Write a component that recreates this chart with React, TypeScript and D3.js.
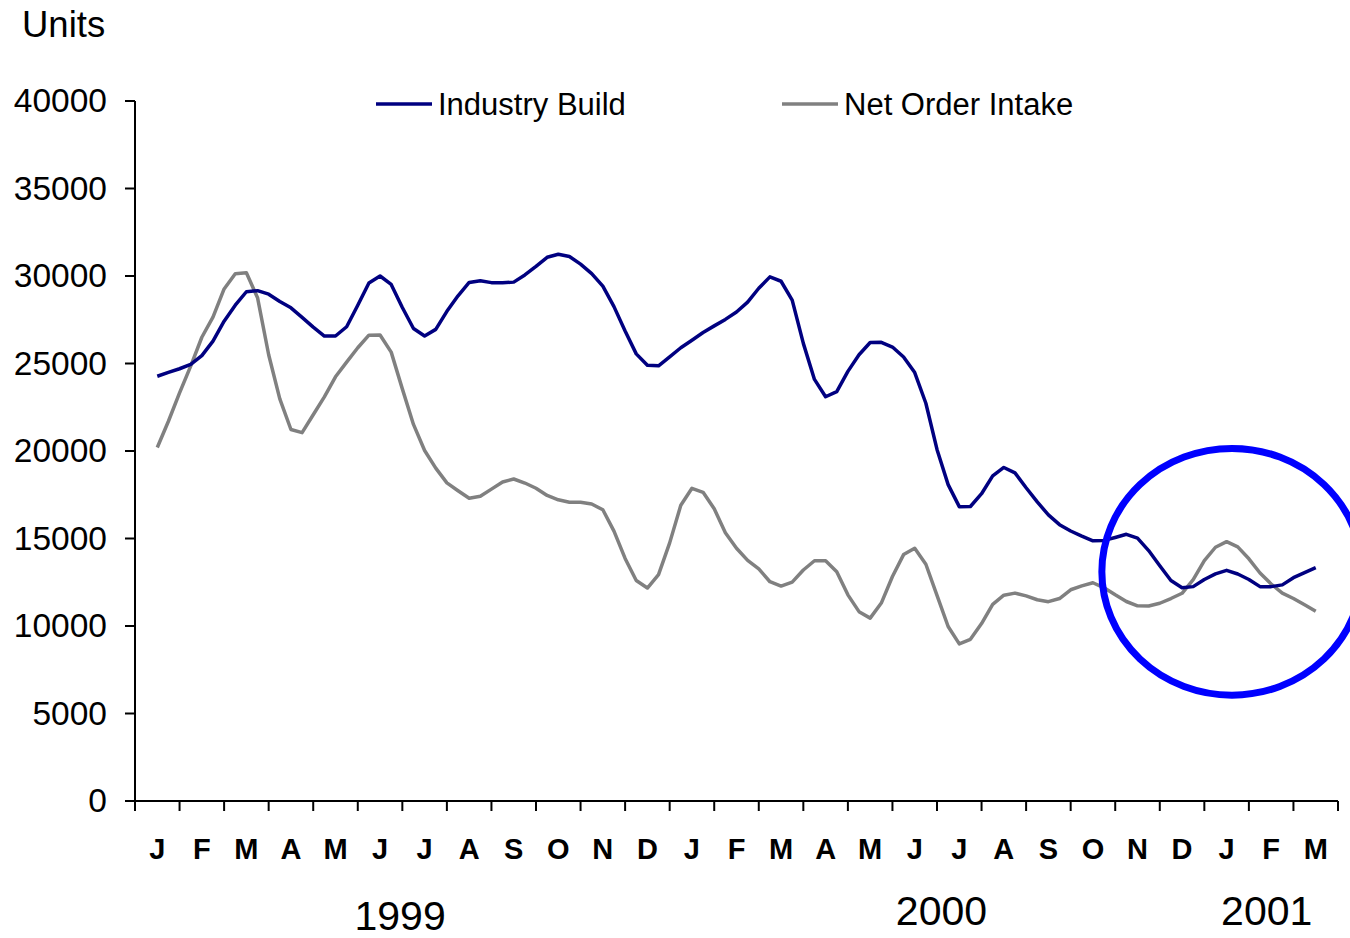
import * as d3 from "d3";
import React from "react";

// weekly readings (approx. quarter-month steps), mid Jan 1999 -> mid Mar 2001
const industryBuild = [
  24270, 24490, 24700, 24950, 25450, 26280, 27420, 28330, 29100, 29160,
  28960, 28540, 28180, 27640, 27080, 26570, 26570, 27100, 28330, 29600,
  30000, 29520, 28200, 27000, 26570, 26950, 27980, 28870, 29630, 29730,
  29620, 29610, 29650, 30060, 30550, 31070, 31240, 31110, 30680, 30140,
  29420, 28250, 26860, 25550, 24900, 24870, 25380, 25900, 26330, 26770,
  27150, 27520, 27940, 28510, 29300, 29950, 29700, 28620, 26150, 24090,
  23100, 23390, 24550, 25500, 26200, 26210, 25940, 25370, 24480, 22730,
  20090, 18080, 16820, 16830, 17560, 18580, 19060, 18750, 17900, 17090,
  16350, 15790, 15430, 15140, 14870, 14890, 15060, 15240, 15020, 14310,
  13440, 12600, 12190, 12250, 12660, 12980, 13180, 12970, 12660, 12250,
  12250, 12350, 12760, 13050, 13330,
];

const netOrderIntake = [
  20200, 21700, 23320, 24850, 26500, 27650, 29260, 30130, 30190, 28760,
  25500, 22980, 21230, 21050, 22070, 23090, 24240, 25080, 25900, 26620,
  26630, 25650, 23550, 21520, 20030, 19020, 18180, 17730, 17300, 17410,
  17820, 18230, 18400, 18170, 17870, 17460, 17210, 17070, 17070, 16970,
  16640, 15420, 13860, 12600, 12170, 12940, 14750, 16900, 17870, 17640,
  16700, 15330, 14440, 13750, 13260, 12530, 12280, 12510, 13200, 13730,
  13730, 13100, 11780, 10820, 10450, 11310, 12830, 14080, 14440, 13530,
  11750, 9970, 8980, 9240, 10140, 11240, 11760, 11880, 11720, 11500,
  11390, 11570, 12070, 12290, 12470, 12180, 11780, 11400, 11150, 11140,
  11300, 11570, 11870, 12650, 13740, 14500, 14820, 14520, 13840, 13030,
  12400, 11880, 11570, 11210, 10840,
];

const months = [
  "J", "F", "M", "A", "M", "J", "J", "A", "S", "O", "N", "D",
  "J", "F", "M", "A", "M", "J", "J", "A", "S", "O", "N", "D",
  "J", "F", "M",
];
const years = [
  { label: "1999", month: 5.95 },
  { label: "2000", month: 18.1 },
  { label: "2001", month: 25.4 },
];
const yTicks = [0, 5000, 10000, 15000, 20000, 25000, 30000, 35000, 40000];

// highlighted region (month position / units)
const highlight = { month: 24.62, value: 13100, rMonths: 2.92, rValue: 7050 };

const FONT = "'Liberation Sans', Arial, sans-serif";
const W = 1350;
const H = 938;

export default function App() {
  const x = d3.scaleLinear().domain([0, months.length]).range([135, 1338]);
  const y = d3.scaleLinear().domain([0, 40000]).range([801, 101]);
  const step = 0.25;
  const start = 0.5;

  const line = d3
    .line<number>()
    .x((d, i) => x(start + i * step))
    .y((d) => y(d));

  const cx = x(highlight.month);
  const cy = y(highlight.value);
  const rx = x(highlight.month + highlight.rMonths) - cx;
  const ry = cy - y(highlight.value + highlight.rValue);

  return (
    <svg
      width={W}
      height={H}
      style={{ position: "absolute", left: 0, top: 0, background: "#fff" }}
      fontFamily={FONT}
    >
      <text x={22} y={37} fontSize={36.5} fill="#000">
        Units
      </text>

      {/* y axis */}
      <line x1={x(0)} x2={x(0)} y1={y(40000)} y2={y(0)} stroke="#000" strokeWidth={2} />
      {yTicks.map((t) => (
        <g key={t}>
          <line x1={x(0) - 10} x2={x(0)} y1={y(t)} y2={y(t)} stroke="#000" strokeWidth={2} />
          <text x={107} y={y(t) + 11} fontSize={33.5} textAnchor="end" fill="#000">
            {t}
          </text>
        </g>
      ))}

      {/* x axis */}
      <line x1={x(0)} x2={x(months.length)} y1={y(0)} y2={y(0)} stroke="#000" strokeWidth={2} />
      {d3.range(months.length + 1).map((i) => (
        <line key={i} x1={x(i)} x2={x(i)} y1={y(0)} y2={y(0) + 10} stroke="#000" strokeWidth={2} />
      ))}
      {months.map((m, i) => (
        <text
          key={i}
          x={x(i + 0.5)}
          y={859}
          fontSize={29}
          fontWeight="bold"
          textAnchor="middle"
          fill="#000"
        >
          {m}
        </text>
      ))}
      {years.map((yr, i) => (
        <text key={yr.label} x={x(yr.month)} y={i === 0 ? 930 : 925} fontSize={41} textAnchor="middle" fill="#000">
          {yr.label}
        </text>
      ))}

      {/* series */}
      <path d={line(netOrderIntake) || ""} fill="none" stroke="#808080" strokeWidth={3.5} strokeLinejoin="round" />
      <path d={line(industryBuild) || ""} fill="none" stroke="#000080" strokeWidth={3.5} strokeLinejoin="round" />

      {/* legend */}
      <line x1={376} x2={432} y1={104} y2={104} stroke="#000080" strokeWidth={3.5} />
      <text x={438} y={115} fontSize={31} fill="#000">
        Industry Build
      </text>
      <line x1={782} x2={838} y1={104} y2={104} stroke="#808080" strokeWidth={3.5} />
      <text x={844} y={115} fontSize={31} fill="#000">
        Net Order Intake
      </text>

      {/* annotation */}
      <ellipse cx={cx} cy={cy} rx={rx} ry={ry} fill="none" stroke="#0000FF" strokeWidth={7} />
    </svg>
  );
}
